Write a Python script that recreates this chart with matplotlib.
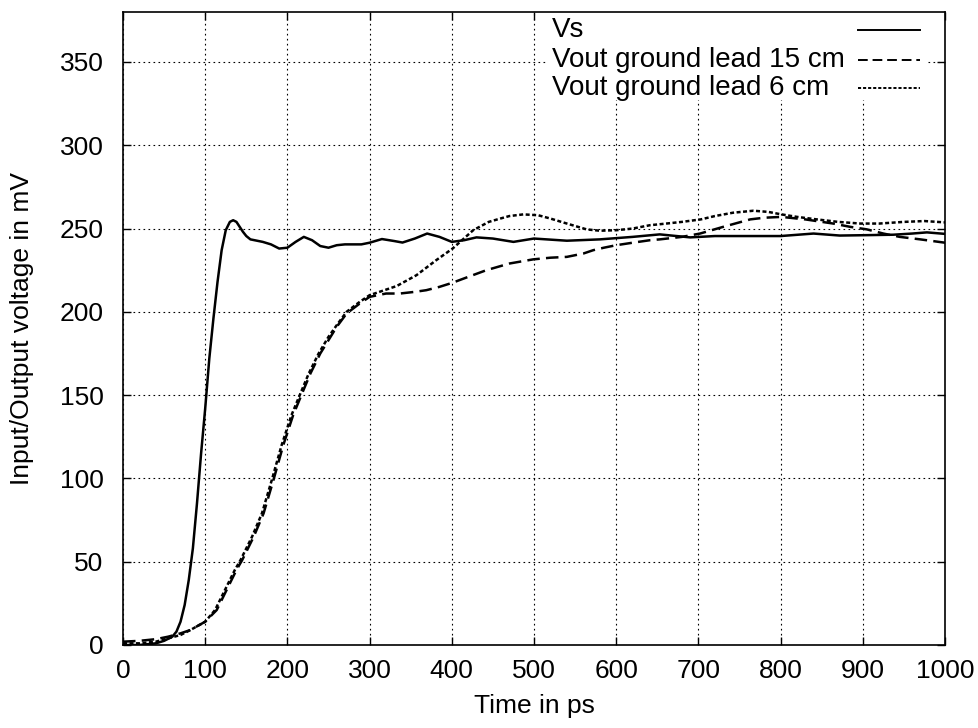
import matplotlib
matplotlib.use("Agg")
import matplotlib.pyplot as plt
from matplotlib.lines import Line2D

plt.rcParams['font.family'] = ['Liberation Sans', 'DejaVu Sans']
plt.rcParams['font.size'] = 19

# Vs (source)
vs_t = [0, 20, 40, 50, 60, 65, 70, 75, 80, 85, 90, 95, 100, 105, 110, 115, 120,
        125, 130, 134, 138, 142, 146, 150, 155, 160, 170, 180, 190, 200, 210,
        220, 230, 240, 250, 260, 270, 280, 290, 300, 315, 330, 340, 355, 370,
        385, 400, 415, 430, 450, 475, 500, 540, 580, 620, 653, 690, 720, 750,
        800, 840, 872, 900, 937, 960, 978, 1000]
vs_v = [0, 0, 1, 2.5, 5, 8, 14, 24, 39, 58, 85, 115, 142, 172, 196, 218, 237,
        249, 254, 255, 254, 251, 248, 245.5, 243.5, 243, 242, 240.5, 238, 238.5, 242,
        245, 243, 239.5, 238.5, 240, 240.5, 240.5, 240.5, 241.5, 243.7, 242.5, 241.6, 244, 247,
        245, 242, 243, 244.7, 244, 242, 244, 242.7, 243.5, 245, 246.5, 244.7, 245.5, 245.5,
        245.5, 247, 245.8, 246, 246.3, 247, 247.7, 246.8]

# Vout, ground lead 15 cm
l15_t = [0, 20, 40, 55, 70, 82, 100, 114, 126, 138, 145, 159, 171, 183, 195,
         207, 217, 228, 240, 250, 260, 272, 288, 300, 320, 337, 355, 369, 385,
         401, 420, 442, 470, 499, 520, 540, 560, 572, 585, 600, 620, 641, 653,
         680, 702, 730, 763, 780, 801, 830, 864, 885, 905, 925, 945, 970, 1000]
l15_v = [2, 2.5, 3.5, 5, 7, 9, 14, 21, 33, 45, 51, 65, 79, 99, 120,
         138, 150, 163, 175, 183, 191, 199, 205, 209, 211, 211, 212, 213, 215,
         217.5, 221, 225, 229, 231.5, 232.5, 233, 235, 237, 238.5, 240, 241.5, 243, 243.5,
         245, 247, 251, 255.5, 256.5, 257, 255.5, 253, 251, 249.5, 247, 245, 243.5, 241.5]

# Vout, ground lead 6 cm
l6_t = [0, 20, 40, 55, 70, 82, 100, 112, 124, 136, 143, 157, 169, 181, 193,
        205, 215, 226, 238, 250, 260, 272, 288, 300, 315, 333, 357, 381, 401,
        426, 445, 459, 470, 487, 505, 520, 540, 564, 580, 600, 620, 641, 661,
        680, 703, 720, 742, 767, 785, 801, 820, 844, 870, 897, 920, 950, 975, 1000]
l6_v = [1, 1, 2, 4, 6, 9, 14, 21, 33, 45, 51, 65, 79, 99, 120,
        138, 150, 163, 175, 185, 192, 200, 206, 210, 212.5, 215.5, 222, 231, 238,
        249, 254, 256, 257.5, 258.5, 258, 256, 253, 249.5, 248.7, 249, 250, 252, 253,
        254, 255.5, 257.5, 259.5, 260.7, 260, 258.5, 257, 255.5, 254, 253, 253, 254, 254.5, 253.7]

labels = ['Vs', 'Vout ground lead 15 cm', 'Vout ground lead 6 cm']
styles = ['-', (0, (5, 2.5)), (0, (1.6, 1.0))]

fig = plt.figure(figsize=(9.79, 7.28), dpi=100)
ax = fig.add_axes([123 / 979, 83 / 728, 822 / 979, 633 / 728])

lw = 1.8
ax.plot(vs_t, vs_v, color='black', lw=lw, ls=styles[0])
ax.plot(l15_t, l15_v, color='black', lw=lw, ls=styles[1])
ax.plot(l6_t, l6_v, color='black', lw=lw, ls=styles[2])

ax.set_xlim(0, 1000)
ax.set_ylim(0, 380)
ax.set_xticks(range(0, 1001, 100))
ax.set_yticks(range(0, 351, 50))
ax.grid(True, color='black', lw=0.8, ls=(0, (1.5, 3)))
ax.tick_params(direction='in', top=True, right=True, length=6, width=1,
               labelsize=19)
ax.tick_params(axis='x', pad=10)
ax.tick_params(axis='y', pad=14)
for s in ax.spines.values():
    s.set_linewidth(1.2)

ax.set_xlabel('Time in ps', fontsize=19, va='center')
ax.xaxis.set_label_coords(0.5, -0.0964)
ax.set_ylabel('Input/Output voltage in mV', fontsize=19, va='center')
ax.yaxis.set_label_coords(-0.1229, 0.5)

# gnuplot-style key: white box, text left, sample on the right
key_box = plt.Rectangle((0.517, 0.861), 0.462, 0.139, transform=ax.transAxes,
                        facecolor='white', edgecolor='none', zorder=2.5)
ax.add_patch(key_box)
rows_y = [0.9716, 0.924, 0.880]
for lab, st, yy in zip(labels, styles, rows_y):
    ax.text(0.522, yy, lab, transform=ax.transAxes, ha='left', va='center',
            fontsize=20, zorder=3)
    ax.add_line(Line2D([0.894, 0.9696], [yy, yy], transform=ax.transAxes,
                       color='black', lw=1.4, ls=st, zorder=3))

fig.savefig('out.png', dpi=100)
